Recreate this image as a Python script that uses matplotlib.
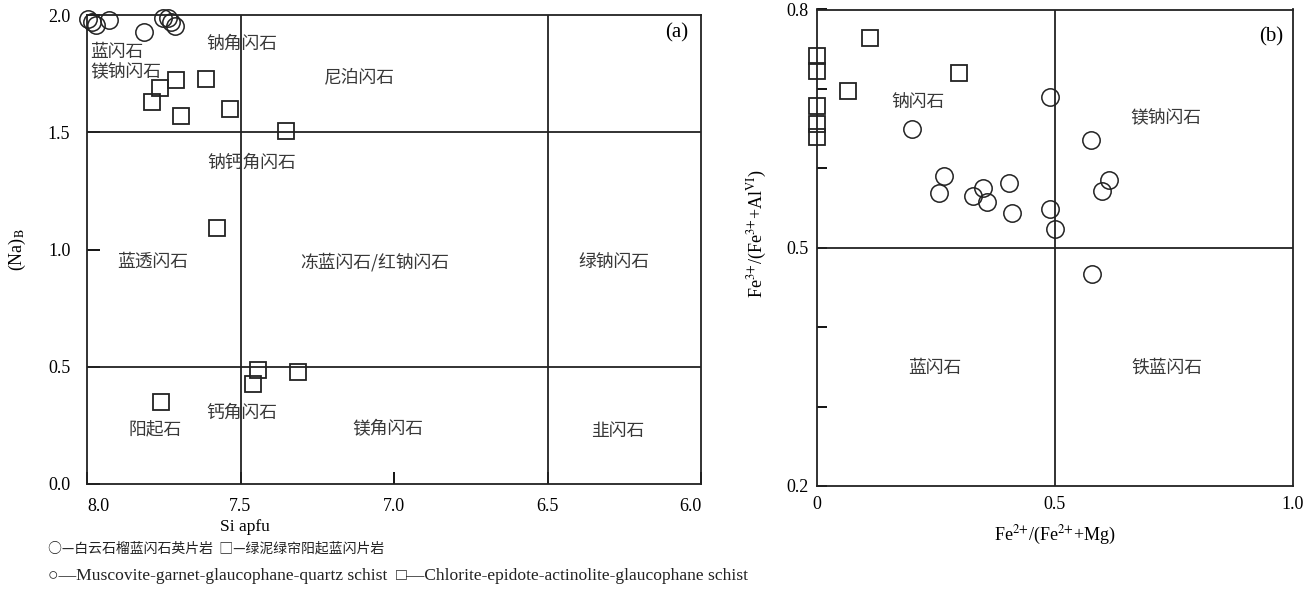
import matplotlib.pyplot as plt
from matplotlib.ticker import FixedLocator

plt.rcParams['font.family'] = ['Liberation Serif', 'Noto Sans CJK SC']
plt.rcParams['mathtext.fontset'] = 'stix'

# (a) Si apfu vs (Na)B
a_circle_si = [7.997, 7.984, 7.971, 7.928, 7.814, 7.751, 7.735, 7.727, 7.713]
a_circle_na = [1.983, 1.970, 1.957, 1.979, 1.929, 1.987, 1.988, 1.971, 1.954]
a_square_si = [7.710, 7.612, 7.762, 7.789, 7.695, 7.534, 7.352, 7.578,
               7.442, 7.460, 7.314, 7.760]
a_square_na = [1.723, 1.727, 1.687, 1.630, 1.571, 1.599, 1.505, 1.090,
               0.486, 0.426, 0.476, 0.348]

# (b) Fe2+/(Fe2++Mg) vs Fe3+/(Fe3++AlVI)
b_circle_x = [0.200, 0.267, 0.256, 0.328, 0.349, 0.358, 0.404, 0.410,
              0.489, 0.489, 0.500, 0.576, 0.598, 0.614, 0.578]
b_circle_y = [0.649, 0.590, 0.569, 0.565, 0.575, 0.557, 0.581, 0.544,
              0.690, 0.549, 0.523, 0.636, 0.572, 0.585, 0.467]
b_square_x = [0.0, 0.0, 0.0, 0.0, 0.0, 0.111, 0.299, 0.066]
b_square_y = [0.741, 0.723, 0.679, 0.656, 0.640, 0.764, 0.720, 0.697]

a_xticks = [8.0, 7.5, 7.0, 6.5, 6.0]
a_yticks = [0.0, 0.5, 1.0, 1.5, 2.0]
b_xticks = [0, 0.5, 1.0]
b_xticklabels = ['0', '0.5', '1.0']
b_yticks = [0.2, 0.3, 0.4, 0.5, 0.6, 0.7, 0.8]
b_yticklabels = ['0.2', '', '', '0.5', '', '', '0.8']

a_labels = [
    ('钠角闪石', 7.495, 1.876, 'center'),
    ('蓝闪石', 7.99, 1.842, 'left'),
    ('镁钠闪石', 7.99, 1.757, 'left'),
    ('尼泊闪石', 7.111, 1.736, 'center'),
    ('钠钙角闪石', 7.463, 1.369, 'center'),
    ('蓝透闪石', 7.785, 0.947, 'center'),
    ('冻蓝闪石/红钠闪石', 7.062, 0.947, 'center'),
    ('绿钠闪石', 6.283, 0.947, 'center'),
    ('钙角闪石', 7.495, 0.303, 'center'),
    ('阳起石', 7.779, 0.230, 'center'),
    ('镁角闪石', 7.02, 0.235, 'center'),
    ('韭闪石', 6.27, 0.226, 'center'),
]
b_labels = [
    ('钠闪石', 0.212, 0.684),
    ('镁钠闪石', 0.733, 0.663),
    ('蓝闪石', 0.248, 0.349),
    ('铁蓝闪石', 0.735, 0.349),
]

lw = 1.3
line_color = '#222222'
label_color = '#383838'
cjk = ['Noto Sans CJK SC', 'DejaVu Sans']

fig = plt.figure(figsize=(13.08, 5.96), dpi=100)
ax1 = fig.add_axes([87 / 1308, 112 / 596, 614 / 1308, 469 / 596])
ax2 = fig.add_axes([817 / 1308, 110 / 596, 476 / 1308, 476.5 / 596])

# panel (a)
ax1.set_xlim(8.0, 6.0)
ax1.set_ylim(0.0, 2.0)
for v in [7.5, 6.5]:
    ax1.axvline(v, color=line_color, lw=lw)
for h in [1.5, 0.5]:
    ax1.axhline(h, color=line_color, lw=lw)
ax1.plot(a_circle_si, a_circle_na, 'o', ms=12.5, mfc='none', mec=line_color,
         mew=1.1, clip_on=False)
ax1.plot(a_square_si, a_square_na, 's', ms=11.5, mfc='none', mec=line_color,
         mew=1.3, clip_on=False)
for txt, x, y, ha in a_labels:
    ax1.text(x, y, txt, ha=ha, va='center', fontsize=12.8, color=label_color,
             family=cjk)
ax1.text(0.979, 0.962, '(a)', transform=ax1.transAxes, ha='right', va='center',
         fontsize=15)
ax1.set_xticks(a_xticks)
ax1.set_xticklabels(['%.1f' % t for t in a_xticks])
ax1.set_yticks(a_yticks)
ax1.set_yticklabels(['%.1f' % t for t in a_yticks])
ax1.tick_params(direction='in', length=9, width=lw, labelsize=13)
ax1.tick_params(axis='x', pad=10)
ax1.tick_params(axis='y', pad=12)
xl = ax1.get_xticklabels()
xl[0].set_ha('left')
xl[-1].set_ha('right')
ax1.set_ylabel('(Na)$_{\\mathrm{B}}$', fontsize=13, labelpad=14)
fig.text(245 / 1308, 1 - 527 / 596, 'Si apfu', ha='center', va='center',
         fontsize=12.5)

# panel (b)
ax2.set_xlim(0, 1.0)
ax2.set_ylim(0.2, 0.8)
ax2.axvline(0.5, color=line_color, lw=lw)
ax2.axhline(0.5, color=line_color, lw=lw)
ax2.plot(b_circle_x, b_circle_y, 'o', ms=12.5, mfc='none', mec=line_color,
         mew=1.1, clip_on=False)
ax2.plot(b_square_x, b_square_y, 's', ms=11.5, mfc='none', mec=line_color,
         mew=1.3, clip_on=False)
for txt, x, y in b_labels:
    ax2.text(x, y, txt, ha='center', va='center', fontsize=12.8,
             color=label_color, family=cjk)
ax2.text(0.979, 0.942, '(b)', transform=ax2.transAxes, ha='right', va='center',
         fontsize=15)
ax2.xaxis.set_major_locator(FixedLocator(b_xticks))
ax2.set_xticklabels(b_xticklabels)
ax2.yaxis.set_major_locator(FixedLocator(b_yticks))
ax2.set_yticklabels(b_yticklabels)
ax2.tick_params(direction='in', length=7, width=lw, labelsize=13)
ax2.tick_params(axis='x', length=0, pad=7)
ax2.tick_params(axis='y', pad=6)
ax2.set_xlabel('Fe$^{2{+}}$/(Fe$^{2{+}}$+Mg)', fontsize=13, labelpad=8)
ax2.set_ylabel('Fe$^{3{+}}$/(Fe$^{3{+}}$+Al$^{\\mathrm{VI}}$)', fontsize=13,
               labelpad=4)
ax2.yaxis.set_label_coords(-0.1, 0.53)

for ax in (ax1, ax2):
    for s in ax.spines.values():
        s.set_linewidth(lw)
        s.set_color(line_color)

# legend lines under the panels
fig.text(48 / 1308, 1 - 549 / 596,
         '○—白云石榴蓝闪石英片岩  □—绿泥绿帘阳起蓝闪片岩',
         ha='left', va='center', fontsize=10, color=line_color, family=cjk)
fig.text(48 / 1308, 1 - 576 / 596,
         '○—Muscovite-garnet-glaucophane-quartz schist  '
         '□—Chlorite-epidote-actinolite-glaucophane schist',
         ha='left', va='center', fontsize=12.6, color=line_color)

fig.savefig('out.png', dpi=100)
